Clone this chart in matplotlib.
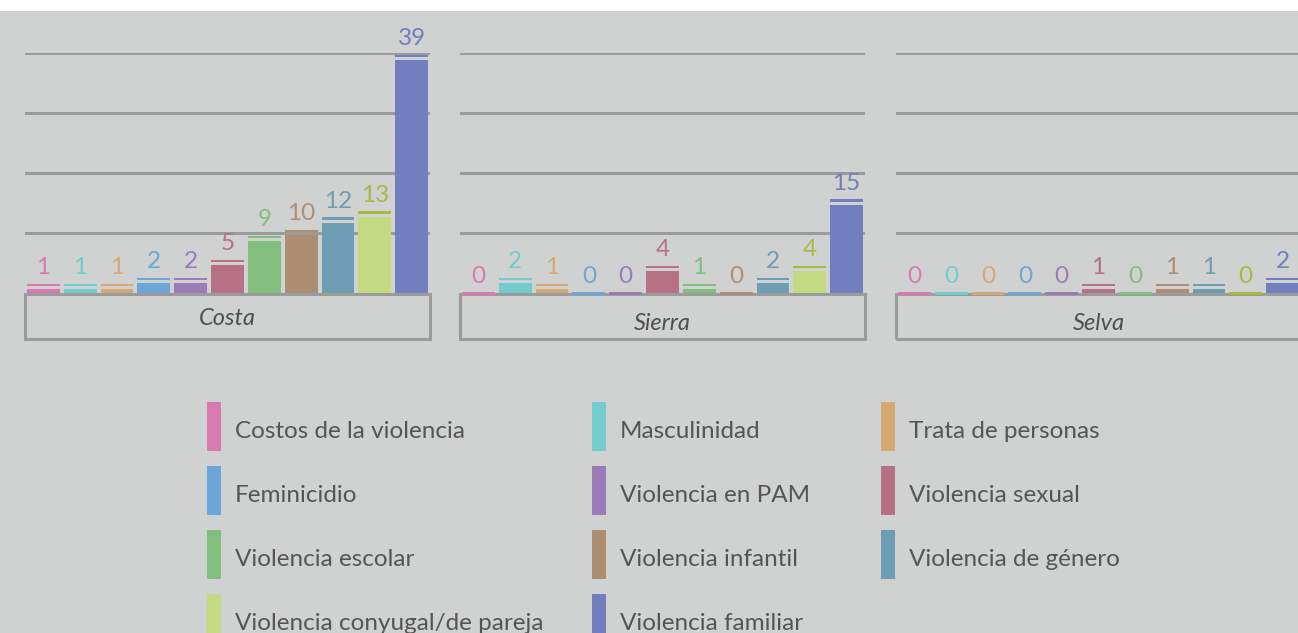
import matplotlib.pyplot as plt
from matplotlib.patches import Rectangle

# --- data -------------------------------------------------------------------
categories = [
    "Costos de la violencia", "Masculinidad", "Trata de personas",
    "Feminicidio", "Violencia en PAM", "Violencia sexual",
    "Violencia escolar", "Violencia infantil", "Violencia de género",
    "Violencia conyugal/de pareja", "Violencia familiar",
]
regions = ["Costa", "Sierra", "Selva"]
costa = [1, 1, 1, 2, 2, 5, 9, 10, 12, 13, 39]
sierra = [0, 2, 1, 0, 0, 4, 1, 0, 2, 4, 15]
selva = [0, 0, 0, 0, 0, 1, 0, 1, 1, 0, 2]
values = [costa, sierra, selva]

bar_colors = ["#d87ab0", "#72cccc", "#d4aa72", "#6ca6d8", "#9b7cb9", "#b77184",
              "#82be7e", "#ae8e72", "#6e9db4", "#c4da80", "#717fbe"]
label_colors = bar_colors[:9] + ["#a9b940", "#717fbe"]

BG = "#d0d2d1"
GRID = "#9b9b9b"
TEXT = "#555555"
FONT = "Lato"

W, H = 1298, 633
fig = plt.figure(figsize=(W / 100, H / 100), dpi=100, facecolor="white")
fig.patches.append(Rectangle((0, 0), 1, 1 - 11 / H, transform=fig.transFigure,
                             facecolor=BG, edgecolor="none", zorder=-10))


def px_axes(left, top, width, height):
    return fig.add_axes([left / W, 1 - (top + height) / H, width / W, height / H])


panel_left = [25, 460, 896]
label_drop = [0, 5, 5]  # the region names do not sit at the same height
for i, region in enumerate(regions):
    ax = px_axes(panel_left[i], 52.5, 405, 241)
    ax.set_facecolor("none")
    ax.set_xlim(-0.5, 10.5)
    ax.set_ylim(0, 40)
    ax.axis("off")
    for g in [10, 20, 30, 40]:
        ax.axhline(g, color=GRID, lw=2.2, zorder=1)

    vals = values[i]
    x = list(range(len(vals)))
    for xi, v, c, lc in zip(x, vals, bar_colors, label_colors):
        if v > 0:
            ax.bar(xi, v - 0.25, width=0.89, color=c, zorder=3)
            cap_bottom = v + 0.2
        else:
            cap_bottom = -0.25
        ax.bar(xi, 0.42, bottom=cap_bottom, width=0.89, color=lc if c == "#c4da80" else c,
               zorder=5, clip_on=False)
        ax.annotate(str(v), (xi, cap_bottom + 0.42), xytext=(0, 7), textcoords="offset points",
                    ha="center", va="baseline", fontsize=17.5, color=lc, family=FONT,
                    annotation_clip=False)

    # category box under the panel
    box_h = 45.5 / 241
    ax.add_patch(Rectangle((0, -box_h), 1, box_h, transform=ax.transAxes, facecolor="none",
                           edgecolor=GRID, lw=2.2, clip_on=False, zorder=4))
    ax.text(0.5, -box_h / 2 - (2 + label_drop[i]) / 241, region, transform=ax.transAxes,
            ha="center", va="center", fontsize=17, style="italic", color="#4f4f4f", family=FONT)

# legend
col_x = [207, 592, 881]
row_top = [402, 466, 530, 594]
for k, (name, c) in enumerate(zip(categories, bar_colors)):
    r, col = divmod(k, 3)
    mx, my = col_x[col], row_top[r]
    fig.patches.append(Rectangle((mx / W, 1 - (my + 49) / H), 14 / W, 49 / H,
                                 transform=fig.transFigure, facecolor=c, edgecolor="none"))
    fig.text((mx + 28) / W, 1 - (my + 30) / H, name, ha="left", va="center",
             fontsize=17.5, color=TEXT, family=FONT)

fig.savefig("out.png", dpi=100, facecolor="white")
